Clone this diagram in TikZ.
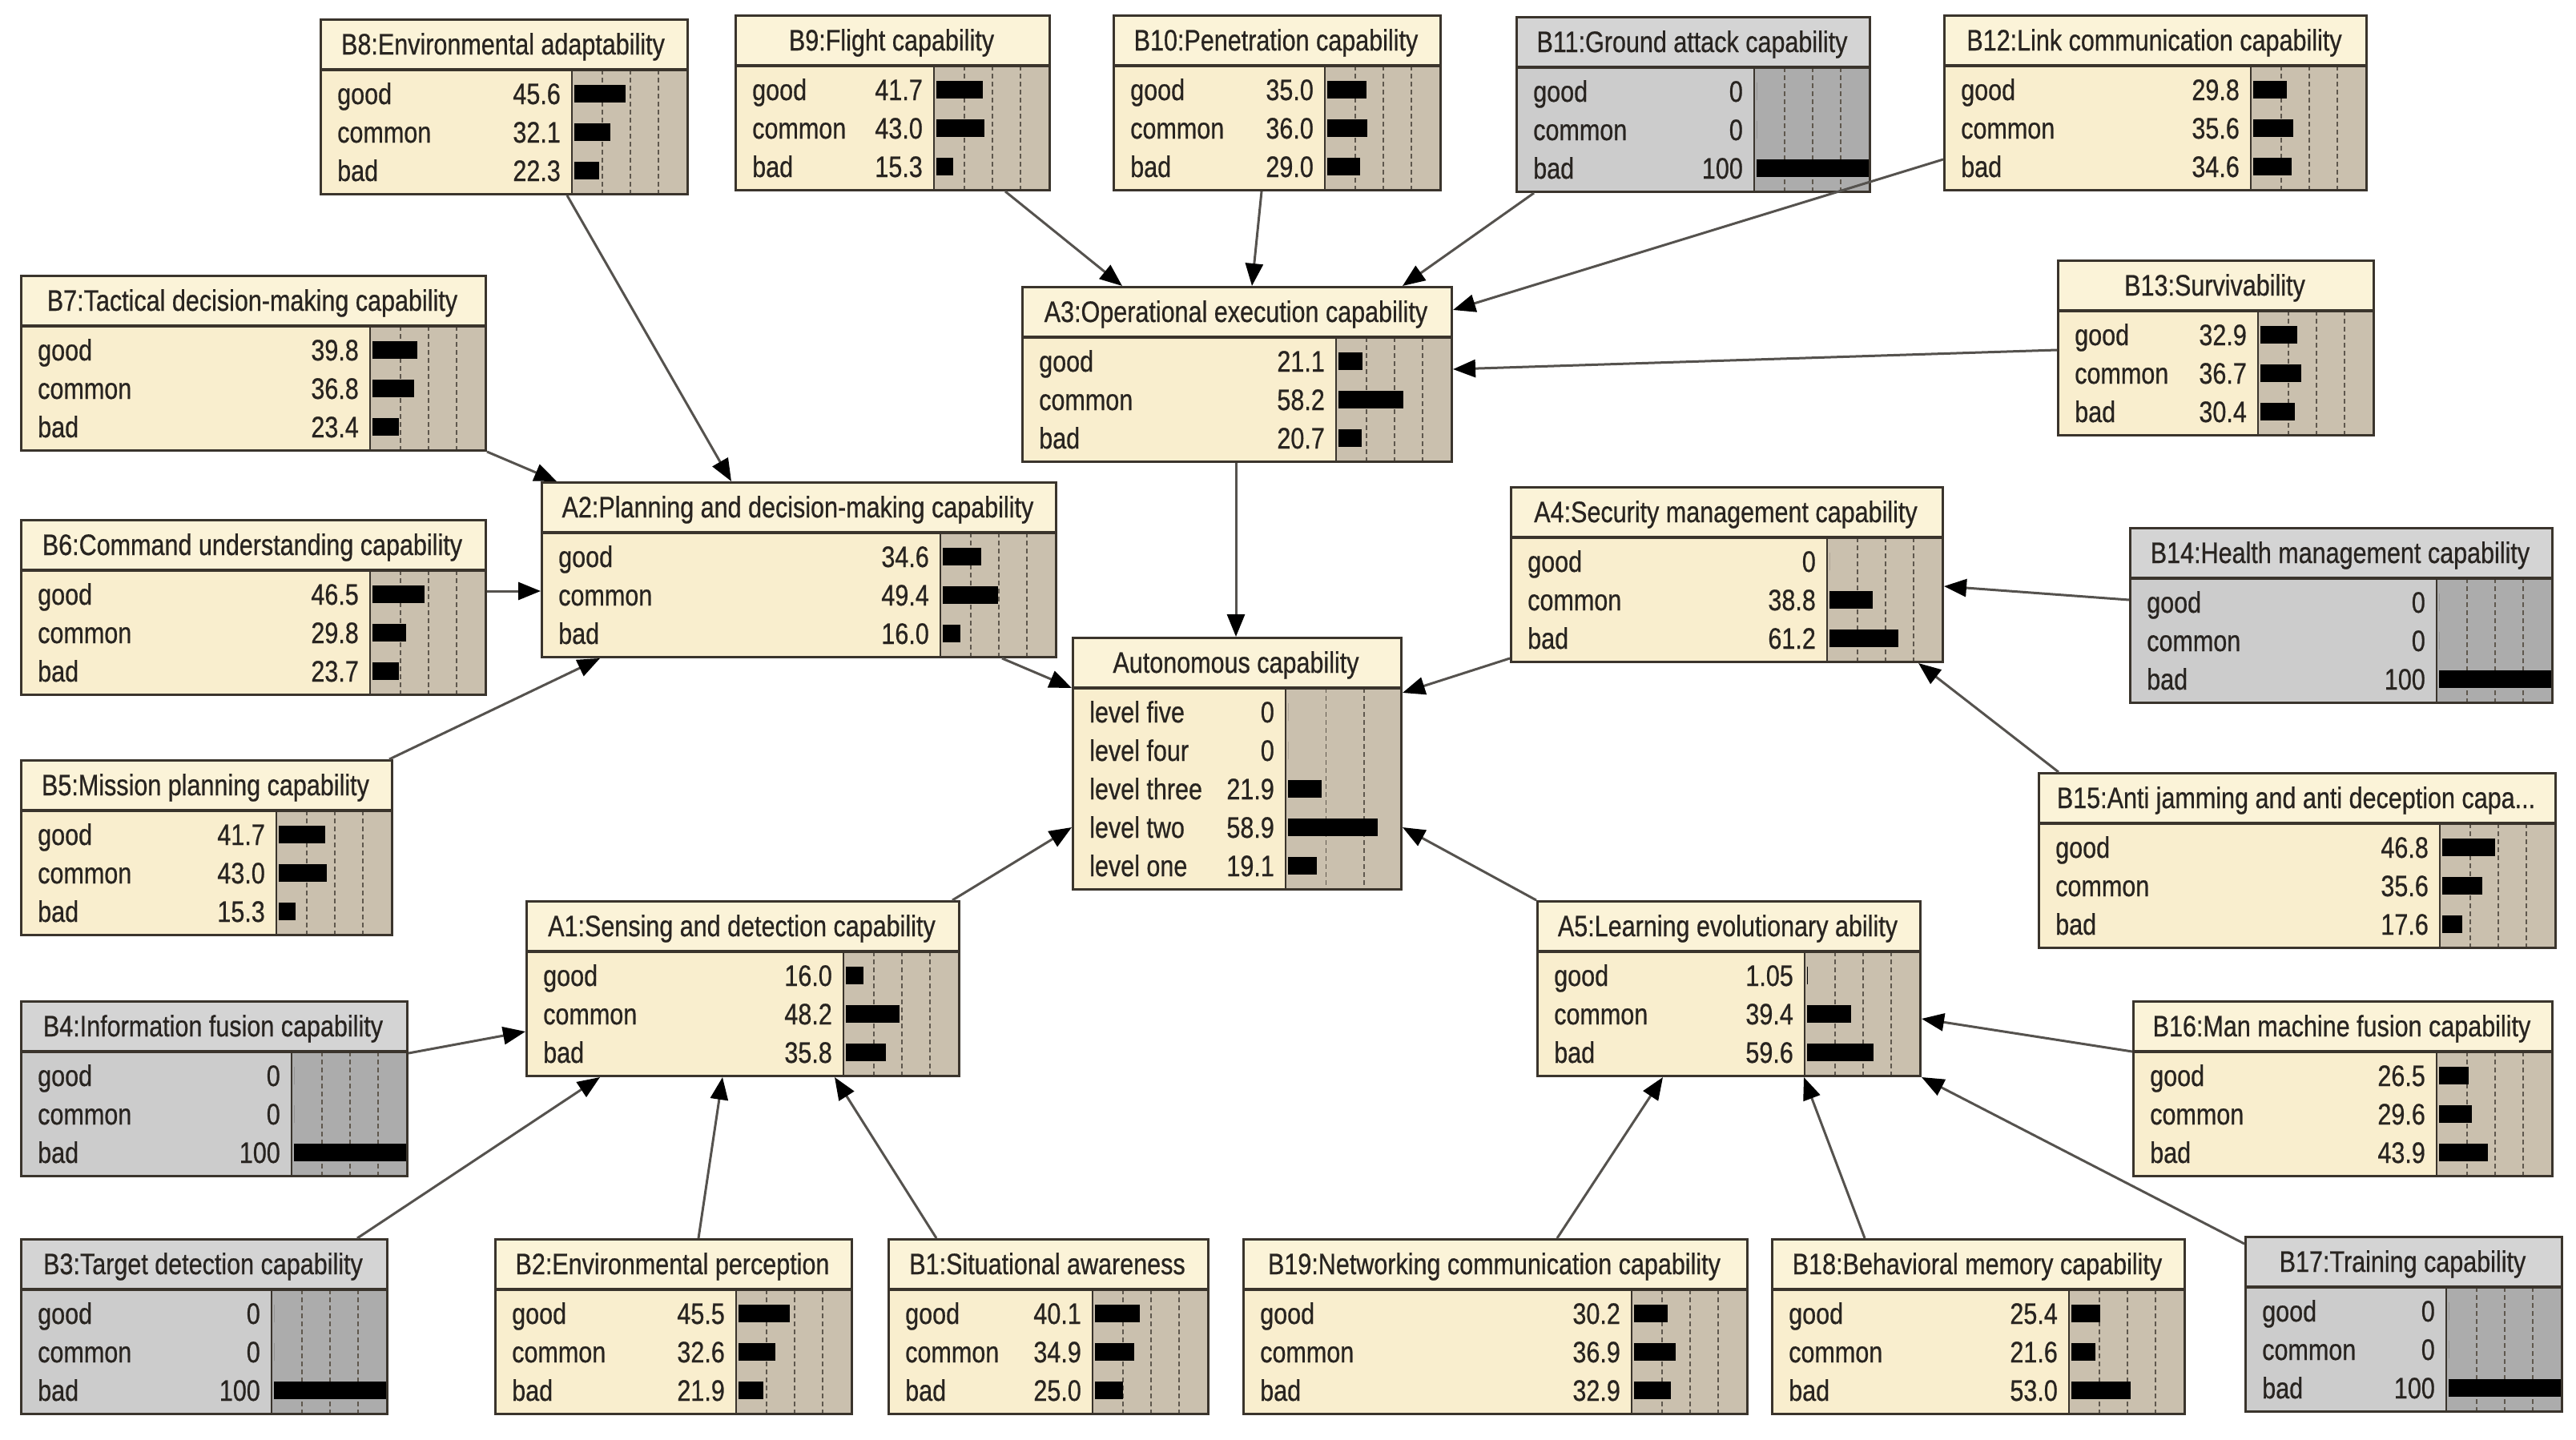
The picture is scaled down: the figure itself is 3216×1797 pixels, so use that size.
\documentclass[tikz,border=0pt]{standalone}
\usepackage{fontspec}
\setmainfont{Liberation Sans}[FakeStretch=0.825,FakeBold=0.6]
\usetikzlibrary{arrows.meta}
\definecolor{creamT}{RGB}{251,243,216}
\definecolor{creamB}{RGB}{249,238,206}
\definecolor{tanbar}{RGB}{202,192,174}
\definecolor{grayT}{RGB}{212,212,212}
\definecolor{grayB}{RGB}{204,204,204}
\definecolor{graybar}{RGB}{172,172,172}
\definecolor{framec}{RGB}{58,52,44}
\definecolor{txtc}{RGB}{40,36,32}
\definecolor{edgec}{RGB}{85,82,78}
\definecolor{gridc}{RGB}{95,88,78}
\tikzset{
  ctitle/.style={fill=creamT}, cbody/.style={fill=creamB}, cbar/.style={fill=tanbar},
  gtitle/.style={fill=grayT}, gbody/.style={fill=grayB}, gbar/.style={fill=graybar},
  bnframe/.style={draw=framec, line width=3pt, inner sep=0pt},
  sepline/.style={draw=framec, line width=3.5pt},
  barline/.style={draw=framec, line width=1.8pt},
  gridline/.style={draw=gridc, line width=1.4pt, dash pattern=on 6pt off 4pt},
  bntext/.style={inner sep=0pt, text=txtc, font=\fontsize{37}{40}\selectfont},
  barfill/.style={fill=black},
  edge/.style={draw=edgec, line width=3pt, -{Triangle[length=28pt,width=22pt,color=black]}}
}
\def\bnScale{1.4}
% #1 name #2 x #3 y #4 width #5 number of states #6 scheme (c/g) #7 title #8 states
\newcommand{\bnnode}[8]{%
  \pgfmathsetmacro{\bnH}{64+48*#5+10}%
  \pgfmathsetmacro{\bnBX}{#4-143}%
  \begin{scope}[shift={(#2,#3)}]
    \fill[#6title] (0,0) rectangle (#4,64);
    \fill[#6body] (0,64) rectangle (\bnBX,\bnH);
    \fill[#6bar] (\bnBX,64) rectangle (#4,\bnH);
    \begin{scope}
      \clip (\bnBX,64) rectangle (#4,\bnH);
      \foreach \q in {25,50,75} {\draw[gridline] ({\bnBX+3+\q*\bnScale},64) -- ({\bnBX+3+\q*\bnScale},\bnH);}
    \end{scope}
    \draw[barline] (\bnBX,64) -- (\bnBX,\bnH);
    \draw[sepline] (0,64) -- (#4,64);
    \node[bntext, anchor=base] at ({#4/2},45) {#7};
    \foreach \lab/\val [count=\i] in {#8} {
      \pgfmathsetmacro{\yy}{64+30+48*(\i-1)}
      \node[bntext, anchor=base west] at (22,\yy+13) {\lab};
      \node[bntext, anchor=base east] at (\bnBX-14,\yy+13) {\val};
      \fill[barfill] (\bnBX+3,\yy-11) rectangle ({\bnBX+3+\val*\bnScale},\yy+11);
    }
    \node[bnframe, anchor=north west, minimum width=#4pt, minimum height=\bnH pt] (#1) at (0,0) {};
  \end{scope}
}
\begin{document}
\begin{tikzpicture}[x=1pt,y=-1pt]
\useasboundingbox[fill=white] (0,0) rectangle (3216,1797);
\bnnode{B8}{399}{23}{458}{3}{c}{B8:Environmental adaptability}{good/45.6,common/32.1,bad/22.3}
\bnnode{B9}{917}{18}{392}{3}{c}{B9:Flight capability}{good/41.7,common/43.0,bad/15.3}
\bnnode{B10}{1389}{18}{408}{3}{c}{B10:Penetration capability}{good/35.0,common/36.0,bad/29.0}
\bnnode{B11}{1892}{20}{441}{3}{g}{B11:Ground attack capability}{good/0,common/0,bad/100}
\bnnode{B12}{2426}{18}{527}{3}{c}{B12:Link communication capability}{good/29.8,common/35.6,bad/34.6}
\bnnode{B7}{25}{343}{580}{3}{c}{B7:Tactical decision-making capability}{good/39.8,common/36.8,bad/23.4}
\bnnode{A3}{1275}{357}{536}{3}{c}{A3:Operational execution capability}{good/21.1,common/58.2,bad/20.7}
\bnnode{B13}{2568}{324}{394}{3}{c}{B13:Survivability}{good/32.9,common/36.7,bad/30.4}
\bnnode{A2}{675}{601}{642}{3}{c}{A2:Planning and decision-making capability}{good/34.6,common/49.4,bad/16.0}
\bnnode{B6}{25}{648}{580}{3}{c}{B6:Command understanding capability}{good/46.5,common/29.8,bad/23.7}
\bnnode{A4}{1885}{607}{539}{3}{c}{A4:Security management capability}{good/0,common/38.8,bad/61.2}
\bnnode{B14}{2658}{658}{527}{3}{g}{B14:Health management capability}{good/0,common/0,bad/100}
\def\bnScale{1.9}
\bnnode{Auto}{1338}{795}{410}{5}{c}{Autonomous capability}{level five/0,level four/0,level three/21.9,level two/58.9,level one/19.1}
\def\bnScale{1.4}
\bnnode{B5}{25}{948}{463}{3}{c}{B5:Mission planning capability}{good/41.7,common/43.0,bad/15.3}
\bnnode{B15}{2544}{964}{645}{3}{c}{B15:Anti jamming and anti deception capa...}{good/46.8,common/35.6,bad/17.6}
\bnnode{A1}{656}{1124}{540}{3}{c}{A1:Sensing and detection capability}{good/16.0,common/48.2,bad/35.8}
\bnnode{A5}{1918}{1124}{478}{3}{c}{A5:Learning evolutionary ability}{good/1.05,common/39.4,bad/59.6}
\bnnode{B4}{25}{1249}{482}{3}{g}{B4:Information fusion capability}{good/0,common/0,bad/100}
\bnnode{B16}{2662}{1249}{523}{3}{c}{B16:Man machine fusion capability}{good/26.5,common/29.6,bad/43.9}
\bnnode{B3}{25}{1546}{457}{3}{g}{B3:Target detection capability}{good/0,common/0,bad/100}
\bnnode{B2}{617}{1546}{445}{3}{c}{B2:Environmental perception}{good/45.5,common/32.6,bad/21.9}
\bnnode{B1}{1108}{1546}{399}{3}{c}{B1:Situational awareness}{good/40.1,common/34.9,bad/25.0}
\bnnode{B19}{1551}{1546}{629}{3}{c}{B19:Networking communication capability}{good/30.2,common/36.9,bad/32.9}
\bnnode{B18}{2211}{1546}{515}{3}{c}{B18:Behavioral memory capability}{good/25.4,common/21.6,bad/53.0}
\bnnode{B17}{2802}{1543}{395}{3}{g}{B17:Training capability}{good/0,common/0,bad/100}
% connectors
\draw[edge] ([xshift=309pt]B8.south west) -- ([xshift=238pt]A2.north west);
\draw[edge] (B7.south east) -- ([xshift=20pt]A2.north west);
\draw[edge] ([yshift=-90pt]B6.north east) -- ([yshift=-137pt]A2.north west);
\draw[edge] ([xshift=-5pt]B5.north east) -- ([xshift=74pt]A2.south west);
\draw[edge] ([xshift=338pt]B9.south west) -- ([xshift=126pt]A3.north west);
\draw[edge] ([xshift=186pt]B10.south west) -- ([xshift=288pt]A3.north west);
\draw[edge] ([xshift=23pt]B11.south west) -- ([xshift=-63pt]A3.north east);
\draw[edge] ([yshift=-181pt]B12.north west) -- ([yshift=-30pt]A3.north east);
\draw[edge] ([yshift=-113pt]B13.north west) -- ([yshift=-104pt]A3.north east);
\draw[edge] ([xshift=268pt]A3.south west) -- ([xshift=205pt]Auto.north west);
\draw[edge] ([xshift=-69pt]A2.south east) -- ([yshift=-64pt]Auto.north west);
\draw[edge] ([yshift=6pt]A4.south west) -- ([yshift=-70pt]Auto.north east);
\draw[edge] ([xshift=-10pt]A1.north east) -- ([yshift=-238pt]Auto.north west);
\draw[edge] (A5.north west) -- ([yshift=-238pt]Auto.north east);
\draw[edge] ([yshift=-91pt]B14.north west) -- ([yshift=-125pt]A4.north east);
\draw[edge] ([xshift=26pt]B15.north west) -- ([xshift=-32pt]A4.south east);
\draw[edge] ([yshift=-66pt]B4.north east) -- ([yshift=-164pt]A1.north west);
\draw[edge] ([xshift=-39pt]B3.north east) -- ([xshift=93pt]A1.south west);
\draw[edge] ([xshift=255pt]B2.north west) -- ([xshift=246pt]A1.south west);
\draw[edge] ([xshift=61pt]B1.north west) -- ([xshift=386pt]A1.south west);
\draw[edge] ([xshift=393pt]B19.north west) -- ([xshift=158pt]A5.south west);
\draw[edge] ([xshift=117pt]B18.north west) -- ([xshift=334pt]A5.south west);
\draw[edge] ([yshift=-10pt]B17.north west) -- (A5.south east);
\draw[edge] ([yshift=-64pt]B16.north west) -- ([yshift=-148pt]A5.north east);
\end{tikzpicture}
\end{document}
